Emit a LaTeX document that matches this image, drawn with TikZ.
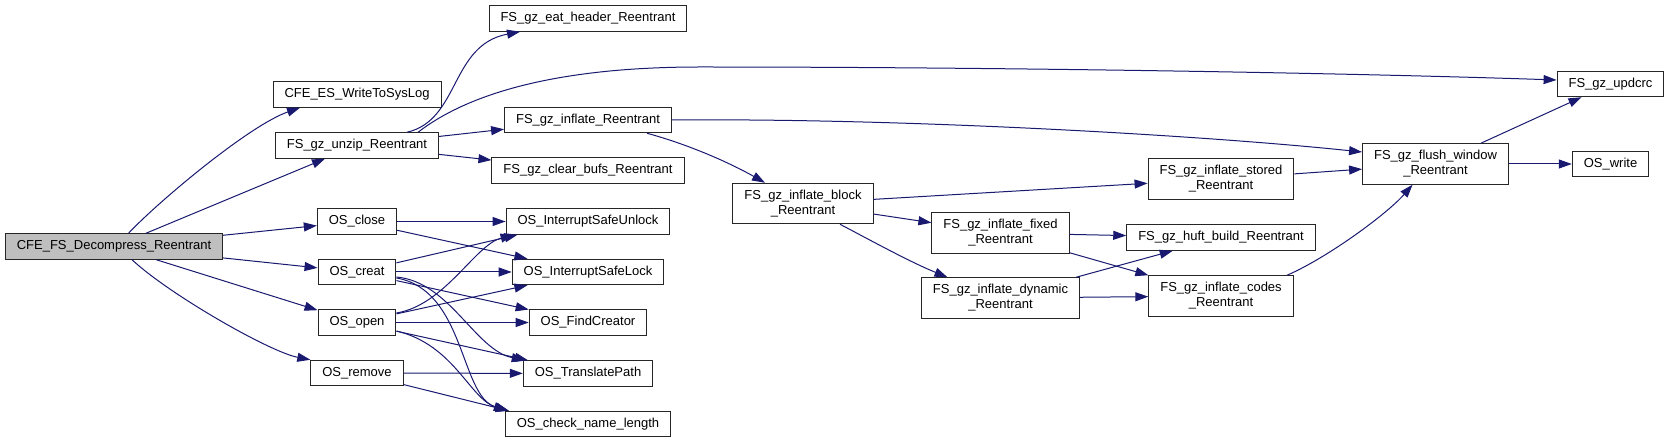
\documentclass[tikz,border=0pt]{standalone}
\usepackage{fontspec}
\setmainfont{Liberation Sans}
\usetikzlibrary{arrows.meta,calc}
\definecolor{edgeblue}{HTML}{191970}
\definecolor{hlgray}{HTML}{BFBFBF}

\begin{document}
\begin{tikzpicture}[x=1pt, y=-1pt,
    fn/.style={draw=black!85, line width=1pt, fill=white, rectangle,
        font=\fontsize{13}{15}\selectfont, inner xsep=11.5pt, inner ysep=2pt,
        minimum height=25.5pt},
    fntwo/.style={fn, align=center, minimum height=40.5pt},
    fnhl/.style={fn, fill=hlgray},
    call/.style={draw=edgeblue, line width=1pt,
        -{Triangle[length=13pt, width=9pt]}}]
    \useasboundingbox (0,0) rectangle (1669,443);

    % caller
    \node[fnhl] (dec) at (114,246.5) {CFE\_FS\_Decompress\_Reentrant};

    % first level
    \node[fn] (syslog) at (357,94.5) {CFE\_ES\_WriteToSysLog};
    \node[fn] (unzip) at (357,145.5) {FS\_gz\_unzip\_Reentrant};
    \node[fn] (close) at (357,221.5) {OS\_close};
    \node[fn] (creat) at (357,272) {OS\_creat};
    \node[fn] (open) at (357,322.5) {OS\_open};
    \node[fn] (remove) at (357,373) {OS\_remove};

    % second level
    \node[fn] (eat) at (588,18.5) {FS\_gz\_eat\_header\_Reentrant};
    \node[fn] (inflate) at (588,120) {FS\_gz\_inflate\_Reentrant};
    \node[fn] (clear) at (588,170.5) {FS\_gz\_clear\_bufs\_Reentrant};
    \node[fn] (unlock) at (588,221.5) {OS\_InterruptSafeUnlock};
    \node[fn] (lock) at (588,272) {OS\_InterruptSafeLock};
    \node[fn] (find) at (588,322.5) {OS\_FindCreator};
    \node[fn] (trans) at (588,373.5) {OS\_TranslatePath};
    \node[fn] (check) at (588,424) {OS\_check\_name\_length};

    % inflate chain
    \node[fntwo] (block) at (803,203.5) {FS\_gz\_inflate\_block\\\_Reentrant};
    \node[fntwo] (fixed) at (1000.5,233) {FS\_gz\_inflate\_fixed\\\_Reentrant};
    \node[fntwo] (dynamic) at (1000.5,298) {FS\_gz\_inflate\_dynamic\\\_Reentrant};
    \node[fntwo] (stored) at (1221,179) {FS\_gz\_inflate\_stored\\\_Reentrant};
    \node[fn] (huft) at (1221,237.5) {FS\_gz\_huft\_build\_Reentrant};
    \node[fntwo] (codes) at (1221,296) {FS\_gz\_inflate\_codes\\\_Reentrant};
    \node[fntwo] (flush) at (1435.5,164) {FS\_gz\_flush\_window\\\_Reentrant};
    \node[fn] (updcrc) at (1610.5,84) {FS\_gz\_updcrc};
    \node[fn] (write) at (1610.5,164) {OS\_write};

    % calls from the caller
    \draw[call] ($(dec.north)+(14.5,0)$) .. controls (160,200) and (250,125) .. ($(syslog.south)+(-57,0)$);
    \draw[call] ($(dec.north)+(32,0)$) -- ($(unzip.south)+(-32,0)$);
    \draw[call] (dec) -- (close);
    \draw[call] (dec) -- (creat);
    \draw[call] (dec) -- (open);
    \draw[call] ($(dec.south)+(18,0)$) .. controls (170,295) and (270,352) .. (remove.north west);

    % unzip
    \draw[call] ($(unzip.north)+(50,0)$) .. controls (460,120) and (450,45) .. ($(eat.south)+(-68,0)$);
    \draw[call] ($(unzip.north)+(61,0)$) .. controls (460,100) and (540,67) .. (700,67)
        .. controls (1000,67) and (1350,73) .. ($(updcrc.west)+(0,-4)$);
    \draw[call] (unzip) -- (inflate);
    \draw[call] (unzip) -- (clear);

    % inflate chain
    \draw[call] (inflate.east) .. controls (900,118) and (1200,135) .. ($(flush.west)+(0,-12)$);
    \draw[call] ($(inflate.south)+(59,0)$) .. controls (690,145) and (730,163) .. ($(block.north)+(-38,0)$);
    \draw[call] (block) -- (stored);
    \draw[call] (block) -- (fixed);
    \draw[call] ($(block.south)+(37,0)$) .. controls (870,240) and (910,262) .. ($(dynamic.north)+(-53,0)$);
    \draw[call] (stored) -- (flush);
    \draw[call] (fixed) -- (huft);
    \draw[call] (fixed) -- (codes);
    \draw[call] (dynamic) -- (huft);
    \draw[call] (dynamic) -- (codes);
    \draw[call] ($(codes.north)+(66,0)$) .. controls (1327,258) and (1387,214) .. ($(flush.south)+(-23,0)$);
    \draw[call] (flush) -- (updcrc);
    \draw[call] (flush) -- (write);

    % OS calls
    \draw[call] (close) -- (unlock);
    \draw[call] (close) -- (lock);
    \draw[call] (creat) -- ($(unlock.south west)+(12,0)$);
    \draw[call] (creat) -- (lock);
    \draw[call] (creat) -- (find);
    \draw[call] ($(creat.east)+(0,5)$) .. controls (450,282) and (475,350) .. ($(trans.north west)+(2,0)$);
    \draw[call] ($(creat.east)+(0,6)$) .. controls (465,290) and (460,395) .. ($(check.north west)+(2,0)$);
    \draw[call] ($(open.east)+(0,-9.5)$) .. controls (445,305) and (475,245) .. ($(unlock.south west)+(8,0)$);
    \draw[call] (open) -- (lock);
    \draw[call] (open) -- (find);
    \draw[call] (open) -- (trans);
    \draw[call] ($(open.east)+(0,8.5)$) .. controls (455,345) and (470,400) .. ($(check.north west)+(4,0)$);
    \draw[call] (remove) -- (trans);
    \draw[call] (remove) -- ($(check.north west)+(4,0)$);
\end{tikzpicture}
\end{document}
